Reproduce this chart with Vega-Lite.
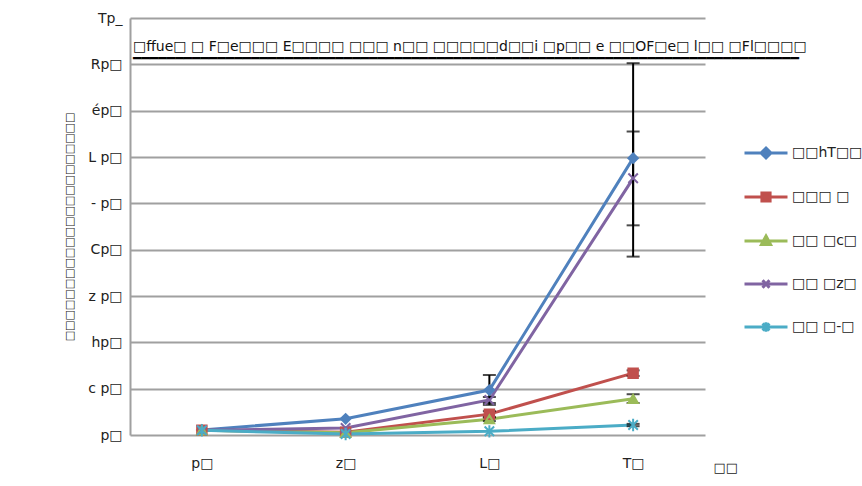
{
  "$schema": "https://vega.github.io/schema/vega-lite/v6.json",
  "width": 575,
  "height": 417,
  "autosize": {"type": "none"},
  "padding": {"left": 130, "top": 18, "right": 157, "bottom": 51},
  "background": "white",
  "config": {
    "font": "DejaVu Sans",
    "view": {"stroke": null},
    "axis": {"labelFont": "DejaVu Sans", "titleFont": "DejaVu Sans", "labelColor": "#222", "titleColor": "#222"}
  },
  "title": {
    "text": "□ffue□  □ F□e□□□  E□□□□  □□□  n□□  □□□□□d□□i  □p□□  e  □□OF□e□  l□□  □Fl□□□□",
    "subtitle": "━━━━━━━━━━━━━━━━━━━━━━━━━━━━━━━━━━━━━━━━━━━━━━━━━━━━━━━━━━━━━━━━━━━━━━━━━━━━━━━",
    "anchor": "start",
    "frame": "group",
    "font": "DejaVu Sans",
    "fontSize": 14,
    "fontWeight": "normal",
    "color": "#111",
    "subtitleFont": "DejaVu Sans",
    "subtitleFontSize": 14,
    "subtitleColor": "#000",
    "subtitlePadding": -2,
    "offset": -55,
    "dx": 3
  },
  "data": {
    "values": [
      {"x": "p□", "s": "□□hT□□", "v": 2.2},
      {"x": "z□", "s": "□□hT□□", "v": 7},
      {"x": "L□", "s": "□□hT□□", "v": 19.4, "lo": 13, "hi": 25.9},
      {"x": "T□", "s": "□□hT□□", "v": 119.5, "lo": 77, "hi": 160.5},
      {"x": "p□", "s": "□□□ □", "v": 2},
      {"x": "z□", "s": "□□□ □", "v": 1.2},
      {"x": "L□", "s": "□□□ □", "v": 9, "lo": 7.7, "hi": 10.3},
      {"x": "T□", "s": "□□□ □", "v": 26.7, "lo": 25.5, "hi": 27.9},
      {"x": "p□", "s": "□□ □c□", "v": 2},
      {"x": "z□", "s": "□□ □c□", "v": 1},
      {"x": "L□", "s": "□□ □c□", "v": 6.8, "lo": 6, "hi": 7.6},
      {"x": "T□", "s": "□□ □c□", "v": 15.6, "lo": 13.8, "hi": 17.6},
      {"x": "p□", "s": "□□ □z□", "v": 2},
      {"x": "z□", "s": "□□ □z□", "v": 3},
      {"x": "L□", "s": "□□ □z□", "v": 15.1, "lo": 13.8, "hi": 16.4},
      {"x": "T□", "s": "□□ □z□", "v": 110.8, "lo": 90.5, "hi": 131},
      {"x": "p□", "s": "□□ □-□", "v": 2},
      {"x": "z□", "s": "□□ □-□", "v": 0.4},
      {"x": "L□", "s": "□□ □-□", "v": 1.6},
      {"x": "T□", "s": "□□ □-□", "v": 4.3, "lo": 3.8, "hi": 4.8}
    ]
  },
  "encoding": {
    "x": {
      "field": "x",
      "type": "nominal",
      "sort": ["p□", "z□", "L□", "T□"],
      "scale": {"type": "point", "padding": 0.5},
      "axis": {
        "title": "□□",
        "titleFontSize": 13,
        "titleFontWeight": "normal",
        "titleX": 583,
        "titleY": 26,
        "titleAlign": "left",
        "titleAnchor": null,
        "labelAngle": 0,
        "labelFontSize": 14,
        "labelPadding": 21,
        "ticks": false,
        "domain": false,
        "grid": false
      }
    }
  },
  "layer": [
    {
      "mark": {"type": "line", "strokeWidth": 3},
      "encoding": {
        "y": {
          "field": "v",
          "type": "quantitative",
          "title": "□□□□□□□□□□□□□□□□□□□□□□",
          "scale": {"domain": [0, 180], "nice": false},
          "axis": {
            "titleFontSize": 11,
            "titleFontWeight": "normal",
            "titlePadding": 13,
            "values": [0, 20, 40, 60, 80, 100, 120, 140, 160, 180],
            "labelExpr": "datum.value==0?'p□':datum.value==20?'c p□':datum.value==40?'hp□':datum.value==60?'z p□':datum.value==80?'Cp□':datum.value==100?'- p□':datum.value==120?'L p□':datum.value==140?'ép□':datum.value==160?'Rp□':'Tp_'",
            "labelFontSize": 14,
            "labelPadding": 8,
            "ticks": false,
            "domain": true,
            "domainColor": "#a0a0a0",
            "domainWidth": 2,
            "grid": true,
            "gridColor": "#a0a0a0",
            "gridWidth": 2
          }
        },
        "color": {
          "field": "s",
          "type": "nominal",
          "scale": {
            "domain": ["□□hT□□", "□□□ □", "□□ □c□", "□□ □z□", "□□ □-□"],
            "range": ["#4F81BD", "#C0504D", "#9BBB59", "#8064A2", "#4BACC6"]
          }
        }
      }
    },
    {
      "transform": [{"filter": "datum.lo != null"}],
      "mark": {"type": "errorbar", "ticks": true, "color": "black", "thickness": 2, "size": 13},
      "encoding": {
        "y": {"field": "lo", "type": "quantitative", "title": "□□□□□□□□□□□□□□□□□□□□□□"},
        "y2": {"field": "hi"}
      }
    },
    {
      "mark": {"type": "point", "filled": true, "size": 90, "opacity": 1},
      "encoding": {
        "y": {"field": "v", "type": "quantitative", "title": "□□□□□□□□□□□□□□□□□□□□□□"},
        "color": {"field": "s", "type": "nominal"},
        "shape": {
          "condition": [
            {"test": "datum.s == '□□hT□□'", "value": "diamond"},
            {"test": "datum.s == '□□□ □'", "value": "square"},
            {"test": "datum.s == '□□ □c□'", "value": "triangle-up"},
            {"test": "datum.s == '□□ □z□'", "value": "M-1,-1L1,1M-1,1L1,-1"}
          ],
          "value": "M-1,-1L1,1M-1,1L1,-1M0,-1.3V1.3"
        }
      }
    },
    {
      "mark": {"type": "point", "filled": false, "size": 90, "strokeWidth": 2, "opacity": 1},
      "encoding": {
        "y": {"field": "v", "type": "quantitative", "title": "□□□□□□□□□□□□□□□□□□□□□□"},
        "color": {"field": "s", "type": "nominal"},
        "shape": {
          "condition": [
            {"test": "datum.s == '□□hT□□'", "value": "diamond"},
            {"test": "datum.s == '□□□ □'", "value": "square"},
            {"test": "datum.s == '□□ □c□'", "value": "triangle-up"},
            {"test": "datum.s == '□□ □z□'", "value": "M-1,-1L1,1M-1,1L1,-1"}
          ],
          "value": "M-1,-1L1,1M-1,1L1,-1M0,-1.3V1.3"
        }
      }
    },
    {
      "mark": {"type": "point", "filled": true, "fillOpacity": 0, "strokeOpacity": 0},
      "encoding": {
        "y": {"field": "v", "type": "quantitative", "title": "□□□□□□□□□□□□□□□□□□□□□□"},
        "shape": {
          "field": "s",
          "type": "nominal",
          "scale": {
            "domain": ["□□hT□□", "□□□ □", "□□ □c□", "□□ □z□", "□□ □-□"],
            "range": [
              "M-1,0H1M0,-0.23L0.23,0L0,0.23L-0.23,0Z",
              "M-1,0H1M-0.19,-0.19H0.19V0.19H-0.19Z",
              "M-1,0H1M0,-0.23L0.21,0.16H-0.21Z",
              "M-1,0H1M-0.16,-0.18L0.16,0.18M-0.16,0.18L0.16,-0.18",
              "M-1,0H1M-0.16,-0.16L0.16,0.16M-0.16,0.16L0.16,-0.16M0,-0.22V0.22"
            ]
          }
        },
        "color": {
          "field": "s",
          "type": "nominal",
          "legend": {
            "title": null,
            "orient": "none",
            "legendX": 613,
            "legendY": 112,
            "symbolSize": 1849,
            "symbolStrokeWidth": 3,
            "symbolOpacity": 1,
            "labelFont": "DejaVu Sans",
            "labelFontSize": 14,
            "labelColor": "#222",
            "labelOffset": 3,
            "rowPadding": 10,
            "encode": {
              "symbols": {
                "update": {
                  "fill": {"scale": "color", "field": "value"},
                  "stroke": {"scale": "color", "field": "value"},
                  "opacity": {"value": 1},
                  "fillOpacity": {"value": 1},
                  "strokeOpacity": {"value": 1}
                }
              }
            }
          }
        }
      }
    }
  ]
}
